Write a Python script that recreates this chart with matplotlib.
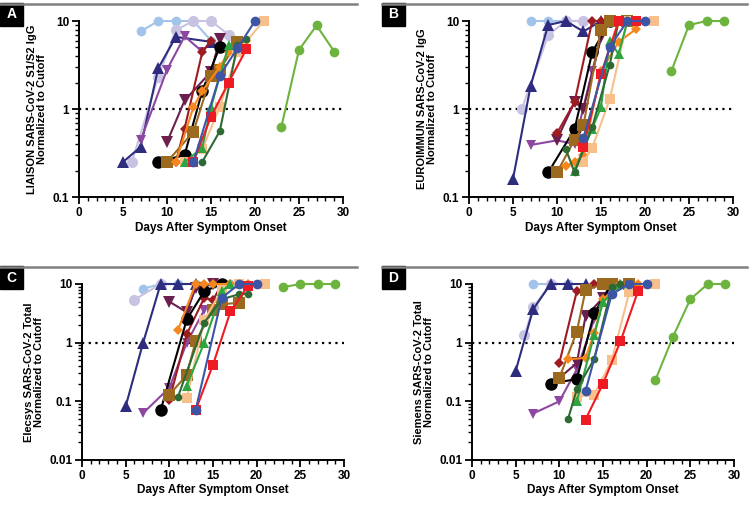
import matplotlib
matplotlib.use("Agg")
import matplotlib.pyplot as plt
from matplotlib.ticker import MultipleLocator, LogLocator, FixedLocator, FixedFormatter, NullFormatter
from matplotlib.lines import Line2D
from matplotlib.patches import Rectangle

plt.rcParams['font.family'] = ['Liberation Sans', 'DejaVu Sans']
plt.rcParams['font.weight'] = 'bold'

# days after symptom onset / normalized signal, read per patient
liaison = {
    "lightblue": ([7, 9, 11, 13, 15], [7.6, 10, 10, 10, 6.0]),
    "lavender": ([6, 9, 11, 13, 15, 17], [0.25, 2.3, 7.9, 10, 10, 7.0]),
    "navy": ([5, 7, 9, 11, 15], [0.25, 0.37, 2.9, 6.6, 5.8]),
    "purple": ([7, 10, 12, 14], [0.44, 2.8, 6.7, 4.5]),
    "maroon": ([10, 12, 15, 16], [0.42, 1.25, 2.65, 6.2]),
    "darkred": ([11, 12, 14, 15], [0.25, 0.6, 4.4, 6.0]),
    "black": ([9, 12, 14, 16], [0.25, 0.3, 1.6, 5.1]),
    "brown": ([10, 13, 15, 16, 18], [0.25, 0.55, 2.4, 2.8, 5.8]),
    "orange": ([11, 13, 14, 16, 17, 19], [0.25, 1.05, 1.6, 3.0, 4.5, 6.0]),
    "lightorange": ([12, 14, 16, 18, 21], [0.25, 0.35, 1.05, 4.5, 10]),
    "green": ([12, 14, 15, 17], [0.25, 0.36, 1.05, 5.3]),
    "darkgreen": ([14, 16, 18, 19], [0.25, 0.56, 5.3, 6.2]),
    "red": ([13, 15, 17, 19], [0.25, 0.82, 2.0, 4.75]),
    "blue": ([13, 16, 18, 20], [0.25, 2.4, 4.9, 10]),
    "lime": ([23, 25, 27, 29], [0.63, 4.7, 8.9, 4.5]),
}

euroimmun = {
    "lightblue": ([7, 9, 11, 13], [10, 10, 10, 10]),
    "lavender": ([6, 9, 11, 13], [1.0, 6.9, 10, 10]),
    "navy": ([5, 7, 9, 11, 13, 15], [0.16, 1.83, 9.0, 10, 7.6, 10]),
    "purple": ([7, 10, 12, 14, 15], [0.39, 0.44, 0.40, 2.7, 6.5]),
    "maroon": ([10, 12, 13, 15, 16], [0.45, 1.2, 1.0, 6.5, 10]),
    "darkred": ([10, 12, 14, 15], [0.53, 1.2, 10, 10]),
    "black": ([9, 12, 14, 16], [0.19, 0.59, 4.4, 10]),
    "brown": ([10, 12, 13, 15, 16, 18], [0.19, 0.45, 0.65, 8, 10, 10]),
    "orange": ([11, 12, 13, 15, 17, 19], [0.225, 0.25, 0.3, 2.7, 5.8, 8.1]),
    "lightorange": ([13, 14, 16, 18, 21], [0.25, 0.36, 1.3, 10, 10]),
    "green": ([12, 14, 15, 16, 17, 18], [0.2, 0.6, 1.05, 6, 4.2, 10]),
    "darkgreen": ([11, 12, 14, 16, 17], [0.35, 0.19, 0.62, 3.2, 10]),
    "red": ([13, 15, 17, 19], [0.37, 2.5, 10, 10]),
    "blue": ([13, 16, 18, 20], [0.47, 5.1, 10, 10]),
    "lime": ([23, 25, 27, 29], [2.7, 9, 10, 10]),
}

elecsys = {
    "lightblue": ([7, 9, 11, 13, 15, 17], [8.3, 10, 10, 10, 10, 10]),
    "lavender": ([6, 9], [5.4, 10]),
    "navy": ([5, 7, 9, 11, 13], [0.082, 1.0, 10, 10, 10]),
    "purple": ([7, 10, 12, 14], [0.063, 0.17, 1.0, 3.6]),
    "maroon": ([10, 12, 13, 15], [5.0, 3.3, 8.5, 10]),
    "darkred": ([10, 12, 14, 15, 16], [0.105, 1.4, 5.8, 5.3, 10]),
    "black": ([9, 12, 14, 16], [0.07, 2.5, 7.5, 10]),
    "brown": ([10, 12, 13, 15, 16, 18], [0.13, 0.28, 1.05, 3.6, 4.5, 4.8]),
    "orange": ([11, 13, 14, 15, 17, 19], [1.65, 10, 10, 10, 10, 10]),
    "lightorange": ([12, 14, 16, 18, 21], [0.115, 2.4, 8, 10, 10]),
    "green": ([12, 14, 16, 17], [0.185, 1.0, 7.5, 10]),
    "darkgreen": ([11, 14, 16, 18, 19], [0.12, 2.2, 5.5, 6.7, 6.8]),
    "red": ([13, 15, 17, 19], [0.07, 0.42, 3.4, 9.2]),
    "blue": ([13, 16, 18, 20], [0.07, 5.8, 10, 10]),
    "lime": ([23, 25, 27, 29], [8.8, 10, 10, 10]),
}

siemens = {
    "lightblue": ([7, 9, 11], [10, 10, 10]),
    "lavender": ([6, 7, 9], [1.33, 4, 10]),
    "navy": ([5, 7, 9, 11, 13], [0.33, 3.7, 10, 10, 10]),
    "purple": ([7, 10, 12, 14, 15, 16], [0.062, 0.1, 0.35, 2.5, 6, 10]),
    "maroon": ([10, 12, 13, 15, 16], [0.25, 0.45, 2.8, 5.8, 10]),
    "darkred": ([10, 12, 14, 15], [0.45, 7.5, 10, 10]),
    "black": ([9, 12, 14, 16], [0.2, 0.24, 3.2, 10]),
    "brown": ([10, 12, 13, 15, 16, 18], [0.25, 1.55, 7.8, 10, 10, 10]),
    "orange": ([11, 13, 14, 15, 17, 19], [0.52, 0.55, 1.45, 5.5, 10, 10]),
    "lightorange": ([12, 14, 16, 18, 21], [0.12, 0.13, 0.5, 7.2, 10]),
    "green": ([12, 14, 15, 17], [0.1, 1.37, 4.9, 10]),
    "darkgreen": ([11, 12, 14, 16, 17], [0.05, 0.16, 0.53, 9, 10]),
    "red": ([13, 15, 17, 19], [0.049, 0.2, 1.05, 7.5]),
    "blue": ([13, 16, 18, 20], [0.15, 6.7, 10, 10]),
    "lime": ([21, 23, 25, 27, 29], [0.23, 1.25, 5.5, 10, 10]),
}

panel_labels = ["A", "B", "C", "D"]
ylabels = [
    "LIAISON SARS-CoV-2 S1/S2 IgG\nNormalized to Cutoff",
    "EUROIMMUN SARS-CoV-2 IgG\nNormalized to Cutoff",
    "Elecsys SARS-CoV-2 Total\nNormalized to Cutoff",
    "Siemens SARS-CoV-2 Total\nNormalized to Cutoff",
]
xlabel = "Days After Symptom Onset"

# marker, color, marker size
styles = {
    "lightblue": ("o", "#A3C4EA", 7),
    "lavender": ("o", "#C9C3E3", 8),
    "navy": ("^", "#2E2C7E", 8),
    "purple": ("v", "#8E47A0", 7.5),
    "maroon": ("v", "#6A1F4E", 8.5),
    "darkred": ("D", "#9E1B20", 5.5),
    "black": ("o", "#000000", 9),
    "brown": ("s", "#9C6A1E", 8),
    "orange": ("D", "#F7861C", 5),
    "lightorange": ("s", "#F8BF8A", 7),
    "green": ("^", "#2DA642", 7),
    "darkgreen": ("o", "#2E6A34", 5.5),
    "red": ("s", "#ED1C24", 6.5),
    "blue": ("o", "#3D55A5", 7),
    "lime": ("o", "#6DB43F", 7),
}

W, H = 751, 507
fig = plt.figure(figsize=(W / 100, H / 100), dpi=100)

# axes boxes in pixels: left, right, top(y of 10), bottom
boxes = [(79, 343, 21, 197), (469, 733, 21, 197), (82, 344, 284, 460), (472, 734, 284, 460)]
ymins = [0.1, 0.1, 0.01, 0.01]
datasets = [liaison, euroimmun, elecsys, siemens]
header_x = [(0, 357), (382, 747), (0, 357), (382, 747)]
header_y = [4, 4, 267, 267]

for i, (l, r, t, b) in enumerate(boxes):
    ax = fig.add_axes([l / W, 1 - b / H, (r - l) / W, (b - t) / H])
    ax.set_yscale("log")
    ax.set_xlim(0, 30)
    ax.set_ylim(ymins[i], 10)

    for name, (d, v) in datasets[i].items():
        m, c, ms = styles[name]
        ax.plot(d, v, marker=m, color=c, ms=ms, lw=1.5, clip_on=False,
                markeredgewidth=0)

    ax.axhline(1, color="black", lw=1.6, ls=(0, (1, 2)), zorder=0)

    for s in ["top", "right"]:
        ax.spines[s].set_visible(False)
    for s in ["left", "bottom"]:
        ax.spines[s].set_linewidth(1.4)

    ax.xaxis.set_major_locator(MultipleLocator(5))
    ax.xaxis.set_minor_locator(MultipleLocator(1))
    if ymins[i] == 0.1:
        yt = [0.1, 1, 10]
        ytl = ["0.1", "1", "10"]
    else:
        yt = [0.01, 0.1, 1, 10]
        ytl = ["0.01", "0.1", "1", "10"]
    ax.yaxis.set_major_locator(FixedLocator(yt))
    ax.yaxis.set_major_formatter(FixedFormatter(ytl))
    ax.yaxis.set_minor_locator(LogLocator(base=10, subs=range(2, 10)))
    ax.yaxis.set_minor_formatter(NullFormatter())
    ax.tick_params(which="major", length=5, width=1.3, labelsize=8.5, pad=2)
    ax.tick_params(which="minor", length=3, width=1.0)
    for lab in ax.get_xticklabels() + ax.get_yticklabels():
        lab.set_fontweight("bold")

    ax.set_xlabel(xlabel, fontsize=8.5, fontweight="bold", labelpad=2)
    ax.set_ylabel(ylabels[i], fontsize=8, fontweight="bold", labelpad=4,
                  linespacing=1.0)

    # header rule and panel letter
    x0, x1 = header_x[i]
    fig.add_artist(Line2D([x0 / W, x1 / W], [1 - header_y[i] / H] * 2,
                          color="#808080", lw=1.8))
    fig.add_artist(Rectangle((x0 / W, 1 - (header_y[i] + 22) / H), 23 / W, 23 / H,
                             color="black"))
    fig.text((x0 + 11.5) / W, 1 - (header_y[i] + 10.5) / H, panel_labels[i],
             color="white", fontsize=10, fontweight="bold", ha="center", va="center")

fig.savefig("out.png", dpi=100)
